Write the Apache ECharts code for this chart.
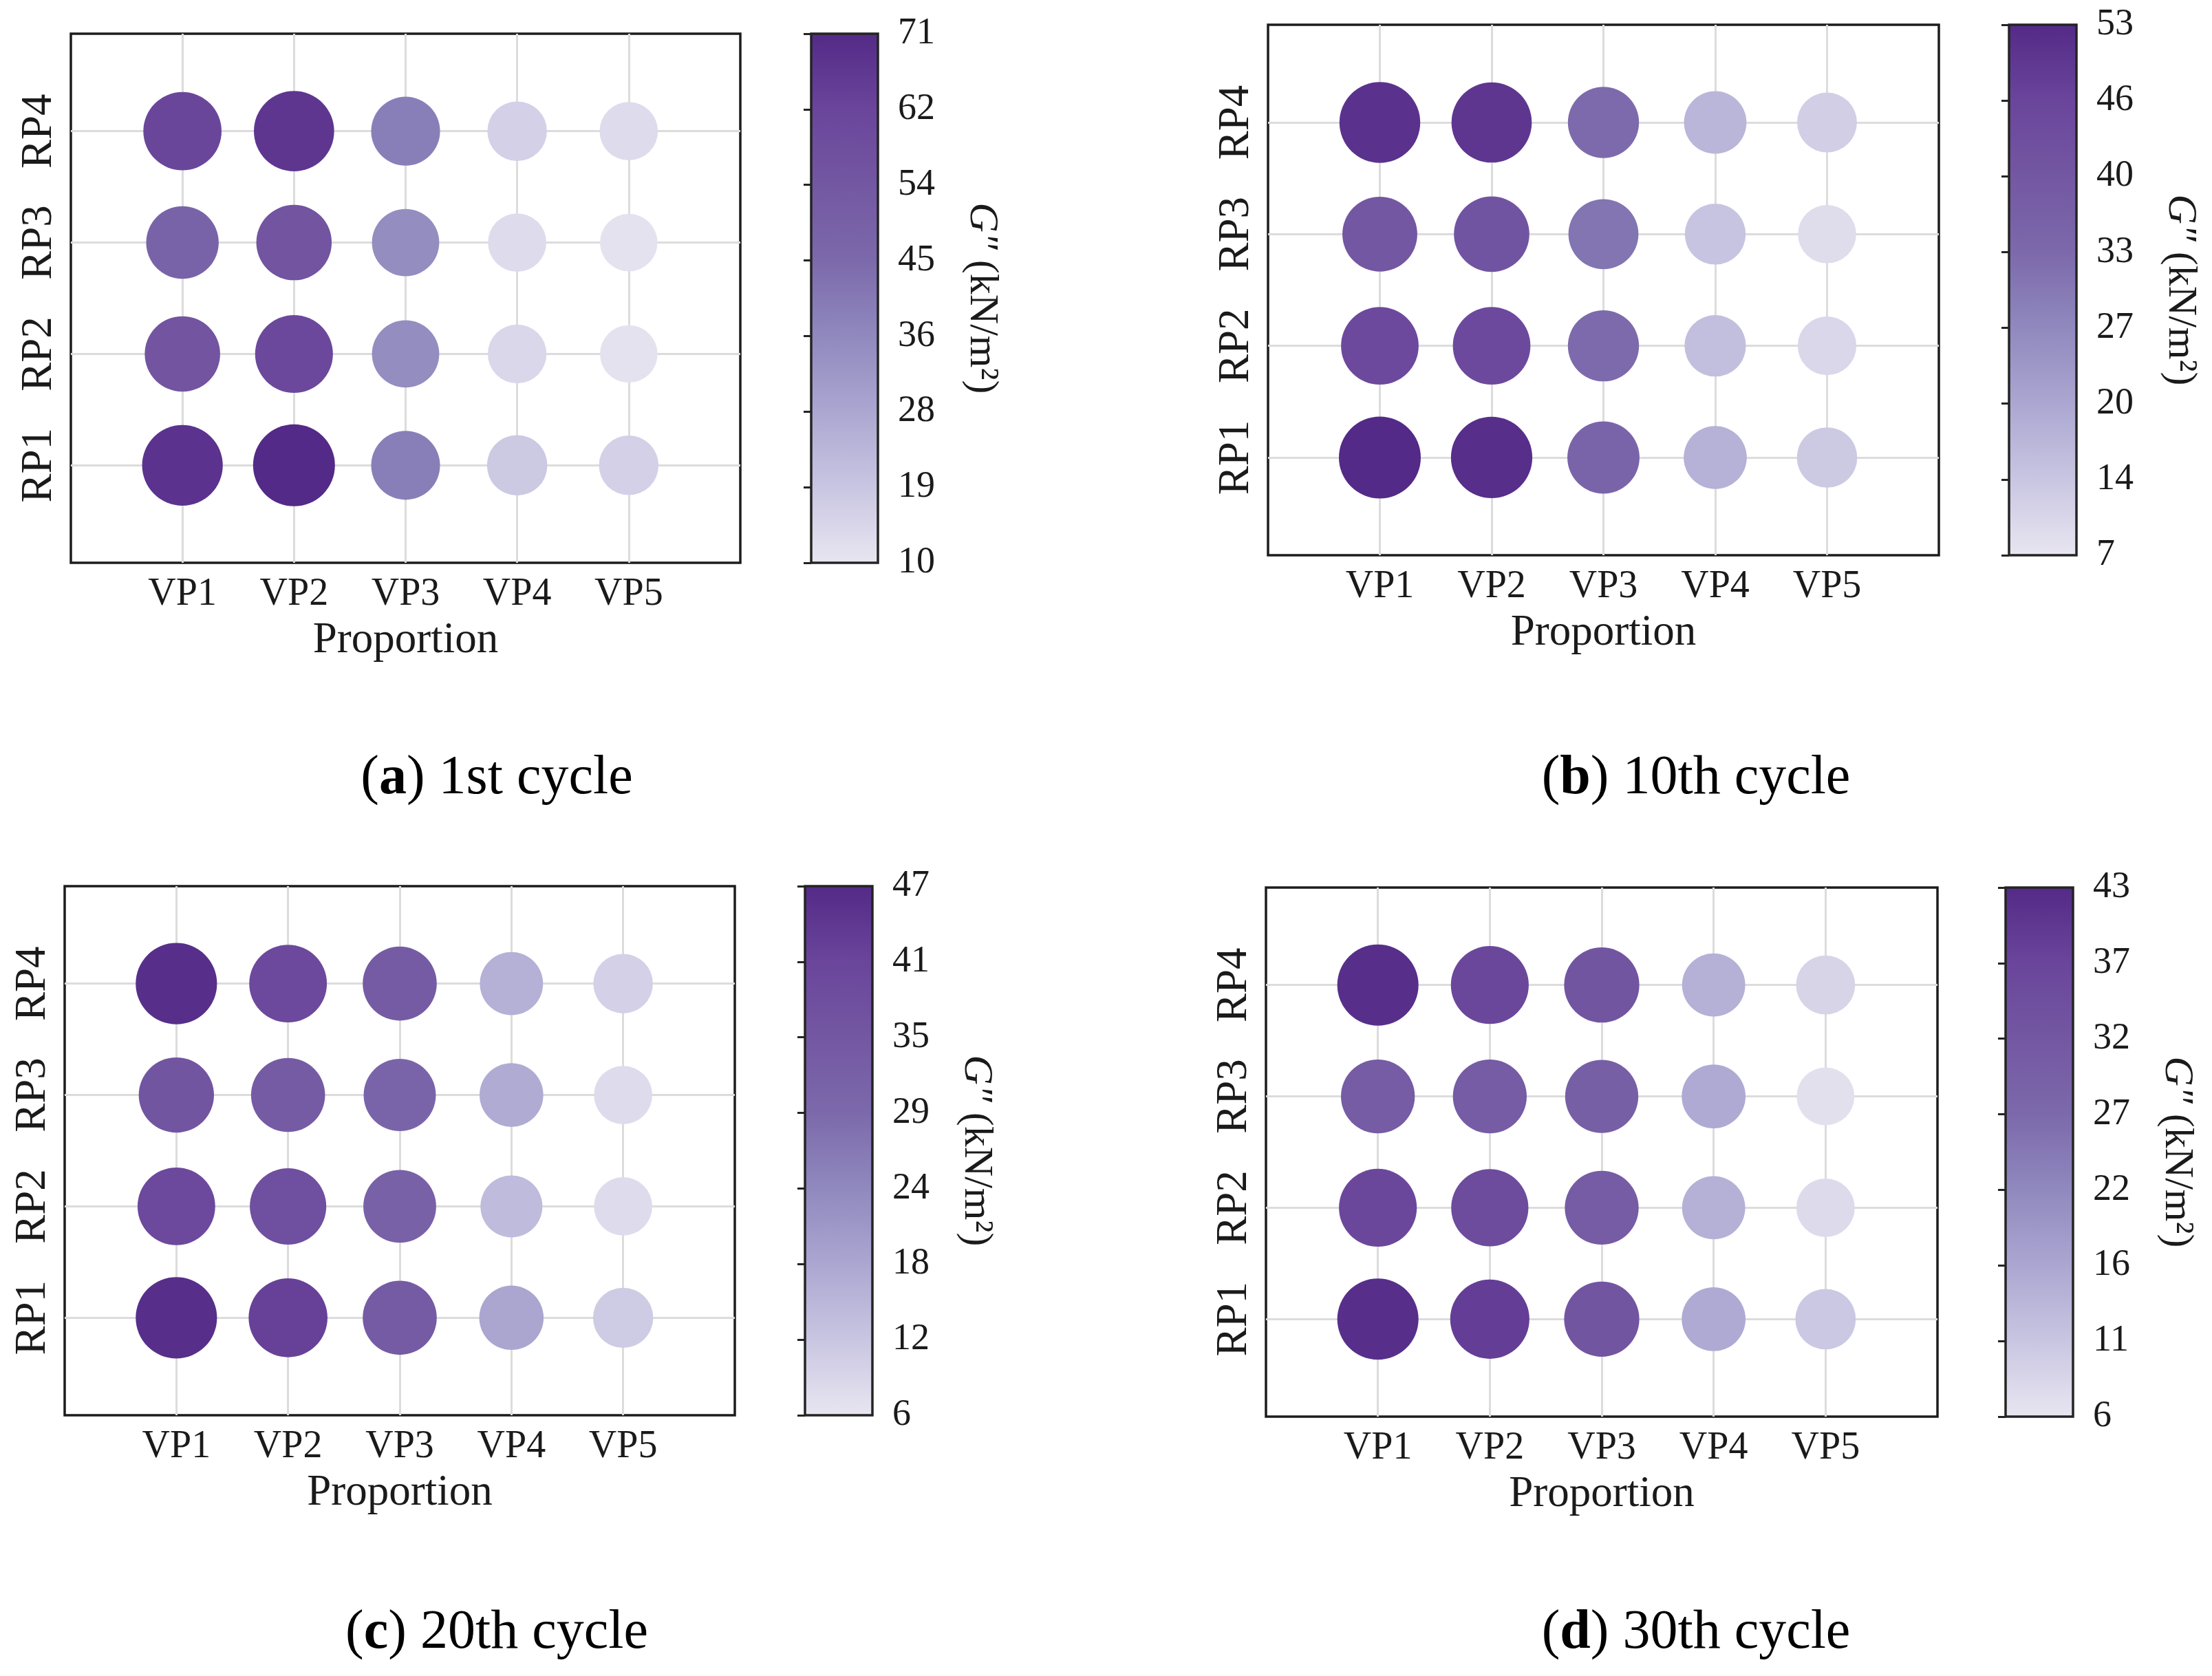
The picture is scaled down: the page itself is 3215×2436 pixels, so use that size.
<!DOCTYPE html>
<html>
<head>
<meta charset="utf-8">
<title>G'' bubble grids</title>
<script src="https://cdn.jsdelivr.net/npm/echarts@6.0.0/dist/echarts.min.js"></script>
<style>
  html, body { margin: 0; padding: 0; background: #fff; }
  #chart { width: 3215px; height: 2436px; }
</style>
</head>
<body>
<div id="chart"></div>
<script>
// categories
const vpLabels = ['VP1', 'VP2', 'VP3', 'VP4', 'VP5'];
const rpLabels = ['RP1', 'RP2', 'RP3', 'RP4'];

// G'' (kN/m2), rows RP1..RP4, columns VP1..VP5
const cycle1 = [
  [68, 71, 39, 18, 16],
  [55, 61, 35, 14, 11],
  [48, 55, 35, 13, 11],
  [62, 67, 39, 16, 13]
];
const cycle10 = [
  [53, 52, 35, 18, 13],
  [45, 45, 33, 15, 10],
  [40, 41, 31, 14, 9],
  [51, 50, 33, 17, 12]
];
const cycle20 = [
  [46, 42, 34, 18, 11],
  [40, 38, 32, 14, 8],
  [36, 34, 31, 17, 8],
  [46, 40, 34, 16, 10]
];
const cycle30 = [
  [42, 39, 33, 16, 11],
  [37, 36, 31, 15, 8],
  [31, 31, 30, 16, 7],
  [42, 37, 33, 15, 9]
];

// colour bar tick labels
const ticks1 = [10, 19, 28, 36, 45, 54, 62, 71];
const ticks10 = [7, 14, 20, 27, 33, 40, 46, 53];
const ticks20 = [6, 12, 18, 24, 29, 35, 41, 47];
const ticks30 = [6, 11, 16, 22, 27, 32, 37, 43];

const cmap = ['#e9e6f1', '#c9c6e2', '#aba7d1', '#9089be', '#7c69ab', '#7357a2', '#6a459b', '#532a87'];

const FONT = '"Liberation Serif", "Times New Roman", serif';
const INK = '#1a1a1a';

const panels = [
  { values: cycle1, ticks: ticks1, letter: 'a', caption: '1st cycle',
    box: [103, 49, 973, 769], bar: [1179, 97], cap: [722, 1132] },
  { values: cycle10, ticks: ticks10, letter: 'b', caption: '10th cycle',
    box: [1843, 36, 975, 771], bar: [2920, 98], cap: [2465, 1132] },
  { values: cycle20, ticks: ticks20, letter: 'c', caption: '20th cycle',
    box: [94, 1288, 974, 769], bar: [1170, 98], cap: [722, 2374] },
  { values: cycle30, ticks: ticks30, letter: 'd', caption: '30th cycle',
    box: [1840, 1290, 976, 769], bar: [2915, 98], cap: [2465, 2374] }
];

const grid = [], xAxis = [], yAxis = [], series = [], visualMap = [], graphic = [];

panels.forEach((p, i) => {
  const g = grid.length;
  // main plot
  grid.push({
    left: p.box[0], top: p.box[1], width: p.box[2], height: p.box[3],
    show: true, backgroundColor: '#fff', borderColor: '#1c1c1c', borderWidth: 3.5
  });
  // colour bar
  const stops = cmap.map((c, k) => ({ offset: k / (cmap.length - 1), color: c }));
  grid.push({
    left: p.bar[0], top: p.box[1], width: p.bar[1], height: p.box[3],
    show: true, borderColor: '#242424', borderWidth: 3.5,
    backgroundColor: new echarts.graphic.LinearGradient(0, 1, 0, 0, stops)
  });

  xAxis.push({
    type: 'value', gridIndex: g, min: 0, max: 6, interval: 1,
    axisLine: { show: false },
    axisTick: { show: false, customValues: [1, 2, 3, 4, 5] },
    axisLabel: {
      customValues: [1, 2, 3, 4, 5],
      formatter: v => vpLabels[Math.round(v) - 1] || '',
      fontFamily: FONT, fontSize: 56, color: INK, margin: 18
    },
    splitLine: { show: true, lineStyle: { color: '#dcdcdc', width: 3 } },
    name: 'Proportion', nameLocation: 'middle', nameGap: 82,
    nameTextStyle: { fontFamily: FONT, fontSize: 63, color: INK }
  });
  xAxis.push({ type: 'value', gridIndex: g + 1, min: 0, max: 1, show: false });

  yAxis.push({
    type: 'value', gridIndex: g, min: 0.125, max: 4.875,
    axisLine: { show: false },
    axisTick: { show: false, customValues: [1, 2, 3, 4] },
    axisLabel: {
      customValues: [1, 2, 3, 4],
      formatter: v => rpLabels[Math.round(v) - 1] || '',
      rotate: 90, fontFamily: FONT, fontSize: 63, color: INK, margin: 14
    },
    splitLine: { show: true, lineStyle: { color: '#dcdcdc', width: 3 } }
  });
  yAxis.push({
    type: 'value', gridIndex: g + 1, position: 'right', min: 0, max: 7, interval: 1,
    axisLine: { show: false },
    axisTick: { show: true, inside: true, length: 11, lineStyle: { color: '#242424', width: 3 } },
    splitLine: { show: false },
    axisLabel: {
      formatter: v => String(p.ticks[Math.round(v)]),
      fontFamily: FONT, fontSize: 54, color: INK, margin: 29
    },
    name: '{i|G\u2033} (kN/m\u00b2)', nameLocation: 'middle', nameRotate: -90, nameGap: 121,
    nameTextStyle: {
      fontFamily: FONT, fontSize: 60, color: INK,
      rich: { i: { fontFamily: FONT, fontSize: 60, fontStyle: 'italic', color: INK } }
    }
  });

  const data = [];
  p.values.forEach((row, r) => row.forEach((v, c) => data.push([c + 1, r + 1, v])));
  series.push({
    type: 'scatter', xAxisIndex: g, yAxisIndex: g, symbol: 'circle',
    data: data, itemStyle: { opacity: 1 }, z: 3
  });

  visualMap.push({
    type: 'continuous', show: false, seriesIndex: i, dimension: 2,
    min: p.ticks[0], max: p.ticks[p.ticks.length - 1],
    inRange: { color: cmap, symbolSize: [83, 119] }
  });

  graphic.push({
    type: 'text', x: p.cap[0], y: p.cap[1],
    style: {
      text: '({b|' + p.letter + '}) ' + p.caption,
      fontFamily: FONT, fontSize: 80, fill: '#000',
      align: 'center', verticalAlign: 'middle',
      rich: { b: { fontFamily: FONT, fontSize: 80, fontWeight: 'bold', fill: '#000' } }
    }
  });
});

const chart = echarts.init(document.getElementById('chart'), null, { renderer: 'canvas' });
chart.setOption({
  backgroundColor: '#fff',
  animation: false,
  grid, xAxis, yAxis, series, visualMap, graphic
});
</script>
</body>
</html>
